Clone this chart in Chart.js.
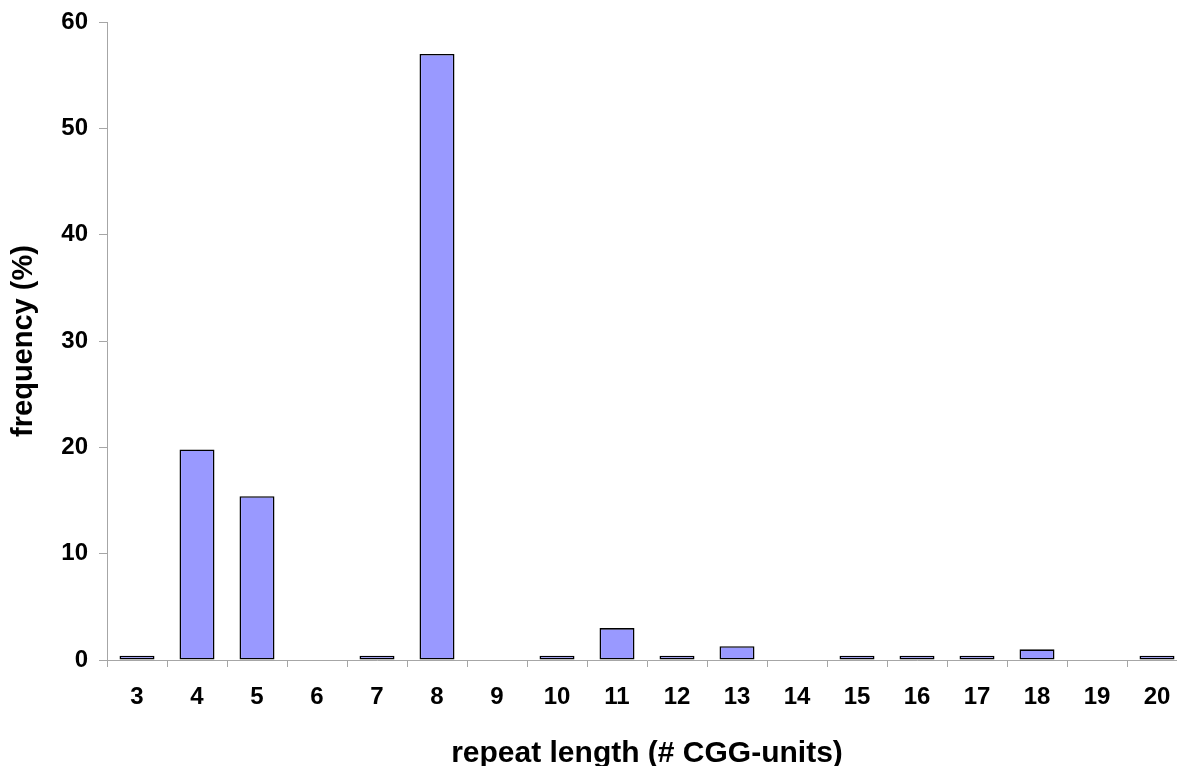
<!DOCTYPE html>
<html>
<head>
<meta charset="utf-8">
<script src="https://cdn.jsdelivr.net/npm/chart.js@4.4.1/dist/chart.umd.min.js"></script>
<style>
  html, body { margin: 0; padding: 0; background: #ffffff; overflow: hidden; }
  #wrap { position: absolute; left: 0; top: 0; width: 1190px; height: 780px; }
</style>
</head>
<body>
<div id="wrap"><canvas id="c"></canvas></div>
<script>
const categories = ["3","4","5","6","7","8","9","10","11","12","13","14","15","16","17","18","19","20"];
const frequency = [0.4, 19.8, 15.4, 0, 0.4, 57, 0, 0.4, 3.0, 0.4, 1.3, 0, 0.4, 0.4, 0.4, 1.0, 0, 0.4];
const yTicks = [0, 10, 20, 30, 40, 50, 60];
const xTitle = "repeat length (# CGG-units)";
const yTitle = "frequency (%)";

const FONT = "'Liberation Sans', Arial, Helvetica, sans-serif";
const AXIS = "#A6A6A6";

new Chart(document.getElementById('c'), {
  type: 'bar',
  data: {
    labels: categories,
    datasets: [{
      data: frequency,
      backgroundColor: '#9999FF',
      borderColor: '#000000',
      borderWidth: 1.6,
      borderSkipped: false,
      barPercentage: 0.583,
      categoryPercentage: 1.0
    }]
  },
  options: {
    responsive: true,
    maintainAspectRatio: false,
    animation: false,
    devicePixelRatio: 1,
    layout: { padding: { top: 22, right: 3, left: 0, bottom: 0 } },
    plugins: { legend: { display: false }, tooltip: { enabled: false } },
    scales: {
      x: {
        offset: true,
        grid: { display: true, drawOnChartArea: false, offset: true, color: AXIS, tickLength: 7, lineWidth: 1 },
        border: { display: true, color: AXIS, width: 1 },
        ticks: { color: '#000', padding: 16, maxRotation: 0, autoSkip: false, font: { family: FONT, size: 24, weight: 'bold' } },
        title: { display: true, text: xTitle, color: '#000', padding: { top: 0, bottom: 8 }, font: { family: FONT, size: 30, weight: 'bold' } },
        afterFit: (s) => { s.height = 120; s.paddingLeft = 0; s.paddingRight = 0; }
      },
      y: {
        min: 0, max: 60,
        afterBuildTicks: (s) => { s.ticks = yTicks.map(v => ({ value: v })); },
        grid: { display: true, drawOnChartArea: false, color: AXIS, tickLength: 8, lineWidth: 1 },
        border: { display: true, color: AXIS, width: 1 },
        ticks: { color: '#000', padding: 11, font: { family: FONT, size: 24, weight: 'bold' } },
        title: { display: true, text: yTitle, color: '#000', padding: { top: 7, bottom: 0 }, font: { family: FONT, size: 29, weight: 'bold' } },
        afterFit: (s) => { s.width = 107; s.paddingTop = 0; s.paddingBottom = 0; }
      }
    }
  }
});
</script>
</body>
</html>
